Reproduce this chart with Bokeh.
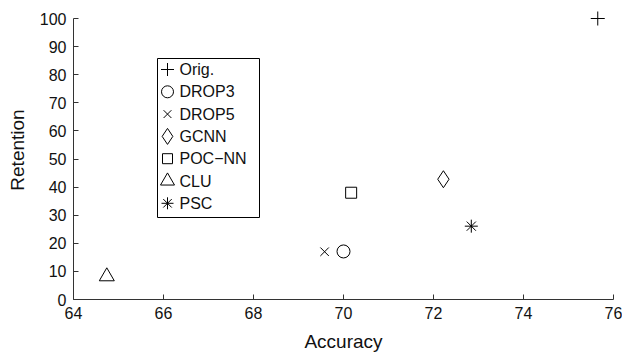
from bokeh.plotting import figure
from bokeh.models import Range1d, FixedTicker
from bokeh.core.properties import value
from bokeh.embed import file_html
from bokeh.resources import INLINE

# ---- data ----
methods = ["Orig.", "DROP3", "DROP5", "GCNN", "POC\u2212NN", "CLU", "PSC"]
accuracy = [75.65, 70.0, 69.58, 72.22, 70.17, 64.74, 72.84]
retention = [100.0, 17.1, 17.0, 42.8, 38.0, 8.2, 26.1]
x_ticks = [64, 66, 68, 70, 72, 74, 76]
y_ticks = [0, 10, 20, 30, 40, 50, 60, 70, 80, 90, 100]

# ---- styles ----
marker_style = {
    "Orig.": ("cross", 14),
    "DROP3": ("circle", 13),
    "DROP5": ("x", 12),
    "GCNN": ("diamond", 17),
    "POC\u2212NN": ("square", 11),
    "CLU": ("triangle", 15),
    "PSC": ("asterisk", 13),
}
FONT = "Liberation Sans"
W, H = 622, 355
LEFT, RIGHT, TOP_Y100, BOTTOM = 73, 9, 18, 56
# legend layout in screen pixels
LEG_L, LEG_R, LEG_T, LEG_B = 157, 259, 58, 217
LEG_GLYPH_X, LEG_TEXT_X, LEG_ROW0, LEG_STEP = 167, 179, 69, 22.3

x0, x1 = x_ticks[0], x_ticks[-1]
y0, y1 = y_ticks[0], y_ticks[-1]
frame_w = W - LEFT - RIGHT
frame_h = H - BOTTOM
plot_h_data = frame_h - TOP_Y100
y_end = y1 + TOP_Y100 * (y1 - y0) / plot_h_data


def px_x(px):
    return x0 + (px - LEFT) * (x1 - x0) / frame_w


def px_y(py):
    return y0 + (frame_h - py) * (y1 - y0) / plot_h_data


p = figure(width=W, height=H, output_backend="svg", toolbar_location=None,
           x_range=Range1d(x0, x1), y_range=Range1d(y0, y_end),
           min_border_left=LEFT, min_border_right=RIGHT,
           min_border_top=0, min_border_bottom=BOTTOM)
p.outline_line_color = None
p.grid.visible = False
p.background_fill_color = "white"
p.border_fill_color = "white"

for m, xa, yr in zip(methods, accuracy, retention):
    mk, sz = marker_style[m]
    p.scatter(x=[xa], y=[yr], marker=mk, size=sz, fill_color=None,
              line_color="black", line_width=1)

for ax, ticks in ((p.xaxis[0], x_ticks), (p.yaxis[0], y_ticks)):
    ax.ticker = FixedTicker(ticks=ticks)
    ax.major_tick_in = 5
    ax.major_tick_out = 0
    ax.minor_tick_in = 0
    ax.minor_tick_out = 0
    ax.axis_line_color = "#333333"
    ax.major_tick_line_color = "#333333"
    ax.major_label_text_font = FONT
    ax.major_label_text_font_size = "16px"
    ax.major_label_text_color = "#111111"
    ax.axis_label_text_font = FONT
    ax.axis_label_text_font_size = "19px"
    ax.axis_label_text_font_style = "normal"
    ax.axis_label_text_color = "#111111"

p.xaxis[0].bounds = (x0, x1)
p.yaxis[0].bounds = (y0, y1)
p.xaxis[0].axis_label = "Accuracy"
p.yaxis[0].axis_label = "Retention"
p.xaxis[0].major_label_standoff = 7
p.yaxis[0].major_label_standoff = 7
p.xaxis[0].axis_label_standoff = 9
p.yaxis[0].axis_label_standoff = 9

# ---- legend box (drawn as glyphs so markers keep their own shapes) ----
p.quad(left=[px_x(LEG_L)], right=[px_x(LEG_R)], top=[px_y(LEG_T)],
       bottom=[px_y(LEG_B)], fill_color="white", line_color="black",
       line_width=1)
for i, m in enumerate(methods):
    mk, sz = marker_style[m]
    row = LEG_ROW0 + i * LEG_STEP
    p.scatter(x=[px_x(LEG_GLYPH_X)], y=[px_y(row)], marker=mk,
              size=sz - 1, fill_color=None, line_color="black", line_width=1)
    p.text(x=[px_x(LEG_TEXT_X)], y=[px_y(row)], text=[m],
           text_font=value(FONT), text_font_size="16px",
           text_baseline="middle", text_align="left", text_color="#111111")

open("out.html", "w").write(file_html(p, INLINE))
